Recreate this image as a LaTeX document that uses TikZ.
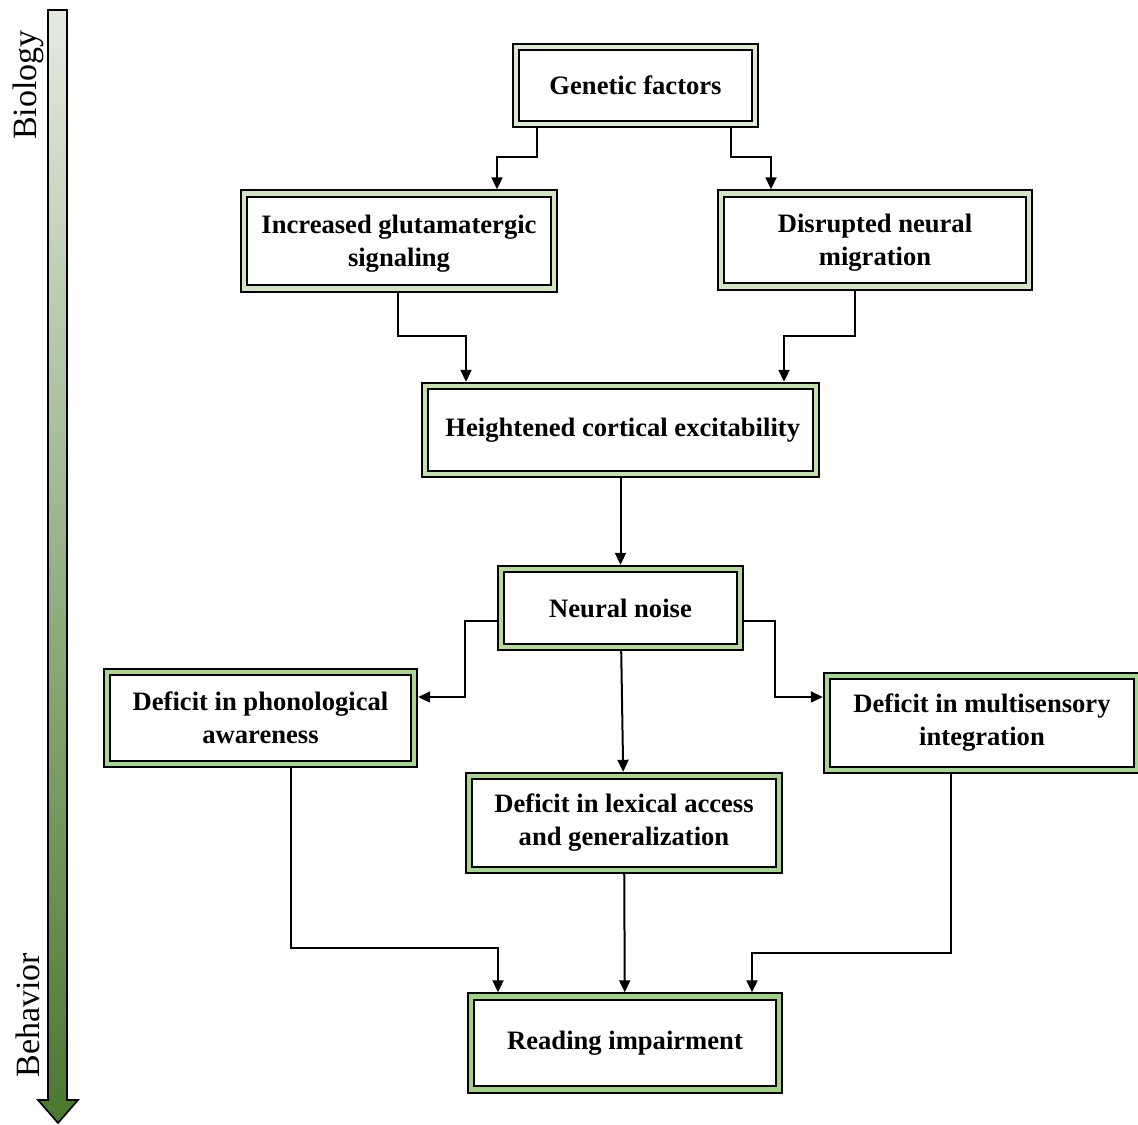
\documentclass[tikz,border=0pt]{standalone}
\usepackage{fontspec}
\setmainfont{Liberation Serif}
\usetikzlibrary{arrows.meta,positioning,calc}
\definecolor{bandA}{HTML}{DCE8D2}
\definecolor{bandB}{HTML}{D2E4C5}
\definecolor{bandC}{HTML}{C3DEB1}
\definecolor{bandD}{HTML}{B6D9A3}
\definecolor{bandE}{HTML}{AAD495}
\definecolor{bandF}{HTML}{A2D08A}
\definecolor{barTop}{HTML}{E4EAE0}
\definecolor{barBot}{HTML}{4A782E}
\tikzset{box/.style={draw=black,line width=1pt,double distance=2.2pt,fill=white,align=center,
    outer sep=2.1pt,inner sep=2pt,font=\fontsize{13.3}{16.5}\selectfont\bfseries},
  band/.style={box,double=#1},
  arr/.style={-{Triangle[length=6pt,width=5.5pt]},line width=1pt}}

\begin{document}
\begin{tikzpicture}[x=0.5pt,y=-0.5pt]
\useasboundingbox (0,0) rectangle (1138,1124);
% side scale
\shade[top color=barTop,bottom color=barBot] (48,10) -- (67,10) -- (67,1100) -- (78,1100) -- (58,1123) -- (38,1100) -- (48,1100) -- cycle;
\draw[line width=0.8pt] (48,10) -- (67,10) -- (67,1100) -- (78,1100) -- (58,1123) -- (38,1100) -- (48,1100) -- cycle;
\node[rotate=90,font=\fontsize{17}{20}\selectfont] (bio) at (28,85) {Biology};
\node[rotate=90,font=\fontsize{17}{20}\selectfont] (beh) at (28,1015) {Behavior};
% boxes
\node[band=bandA,minimum width=119.5pt,minimum height=38.5pt] (gen) at (635.5,85.5) {Genetic factors};
\node[band=bandB,minimum width=155pt,minimum height=47.5pt,text depth=0pt] (glu) at (399,241) {Increased glutamatergic\\signaling};
\node[band=bandB,minimum width=154pt,minimum height=46.5pt,text depth=0pt] (mig) at (875,240) {Disrupted neural\\migration};
\node[band=bandC,minimum width=195.5pt,minimum height=44pt] (exc) at (620.5,430) {\,Heightened cortical excitability};
\node[band=bandD,minimum width=119.5pt,minimum height=39pt] (noise) at (620.5,608) {Neural noise};
\node[band=bandE,minimum width=153.5pt,minimum height=46pt] (pho) at (260.5,718) {Deficit in phonological\\awareness};
\node[band=bandE,minimum width=155pt,minimum height=47pt] (mul) at (982,723) {Deficit in multisensory\\integration};
\node[band=bandE,minimum width=155pt,minimum height=47pt] (lex) at (624,823) {Deficit in lexical access\\and generalization};
\node[band=bandF,minimum width=154pt,minimum height=46.5pt] (read) at (625,1043) {Reading impairment};
% connectors
\draw[arr] ([xshift=-49.25pt]gen.south) -- ++(0,29) -| ([xshift=49pt]glu.north);
\draw[arr] ([xshift=47.75pt]gen.south) -- ++(0,29) -| ([xshift=-52pt]mig.north);
\draw[arr] ([xshift=-0.5pt]glu.south) -- ++(0,43) -| ([xshift=-77.25pt]exc.north);
\draw[arr] ([xshift=-10pt]mig.south) -- ++(0,45) -| ([xshift=81.75pt]exc.north);
\draw[arr] ([yshift=-6.5pt]noise.west) -- ++(-32,0) |- ([yshift=10.5pt]pho.east);
\draw[arr] ([yshift=-6.5pt]noise.east) -- ++(31,0) |- ([yshift=13pt]mul.west);
\draw[arr] ([xshift=15.25pt]pho.south) -- ++(0,180) -| ([xshift=-63.5pt]read.north);
\draw[arr] ([xshift=-15.5pt]mul.south) -- ++(0,179) -| ([xshift=63.5pt]read.north);
\foreach \p/\q in {exc/noise,noise/lex,lex/read}{\draw[arr] (\p)--(\q);}
\end{tikzpicture}
\end{document}
